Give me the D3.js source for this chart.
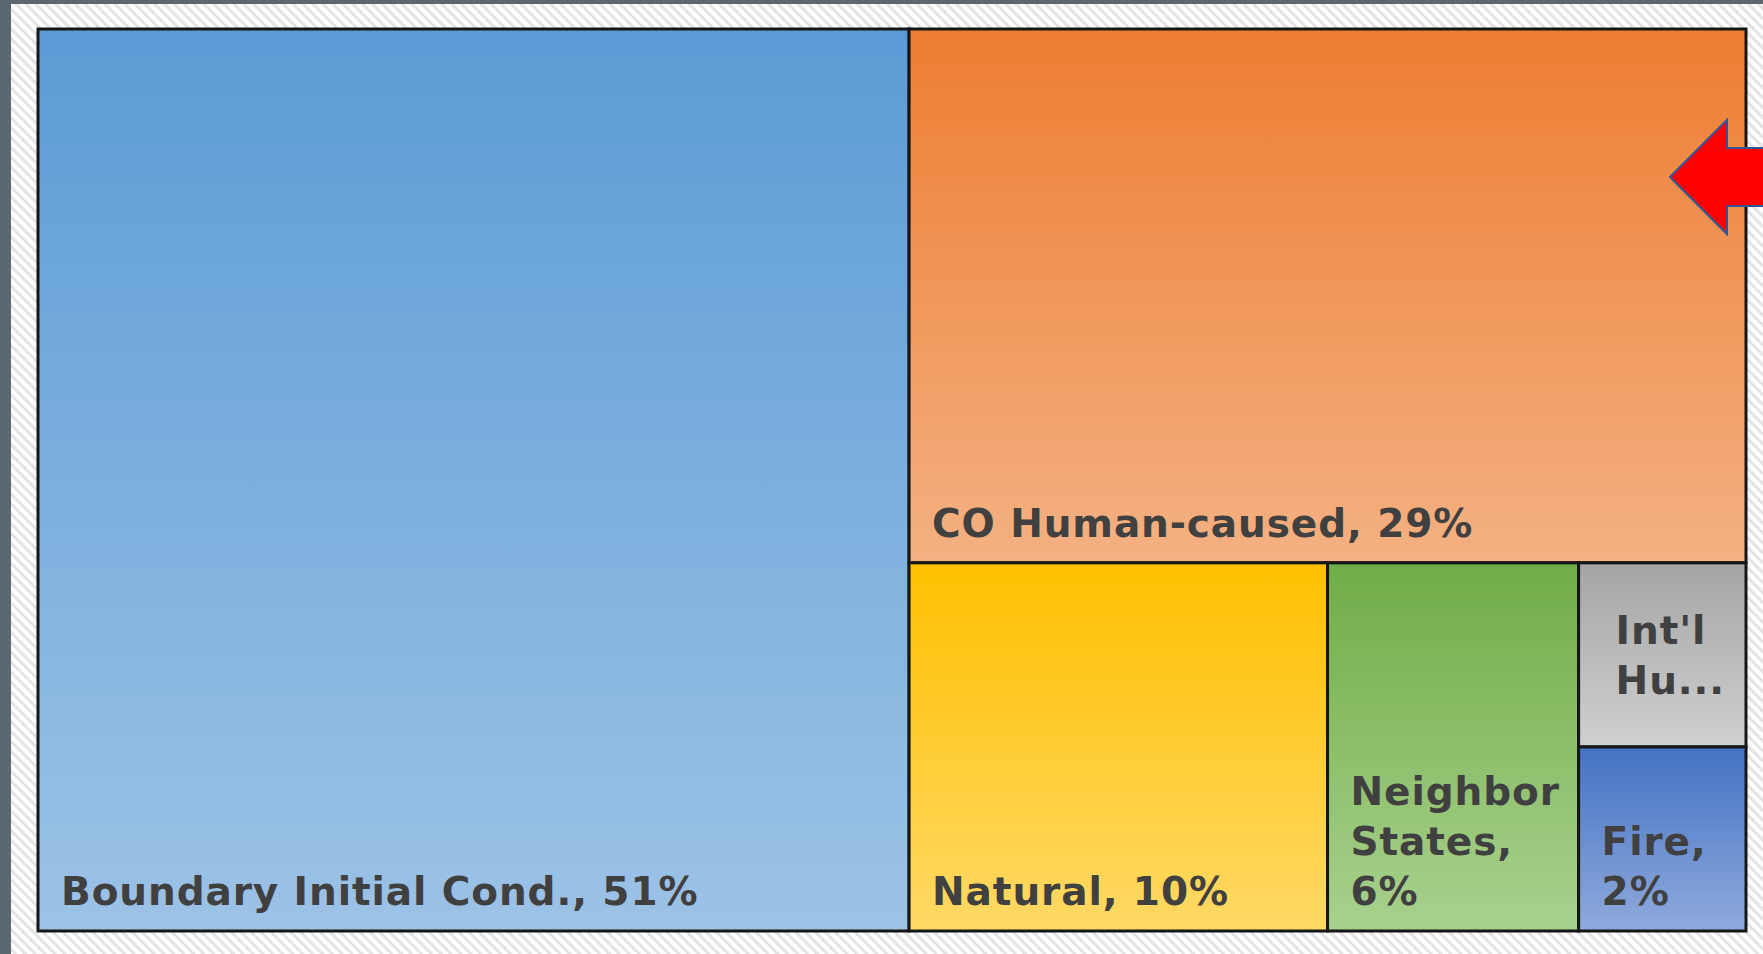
<!DOCTYPE html>
<html>
<head>
<meta charset="utf-8">
<script src="https://cdn.jsdelivr.net/npm/d3@7"></script>
<style>
  html, body { margin: 0; padding: 0; background: #ffffff; }
  svg { display: block; }
</style>
</head>
<body>
<svg id="chart" width="1763" height="954"></svg>
<script>
// Sources of CO, share of total (%)
const categories = ["Boundary Initial Cond.", "CO Human-caused", "Natural", "Neighbor States", "Int'l Human-caused", "Fire"];
const shares = [51, 29, 10, 6, 2, 2];
const colorTop = ["#5B9BD5", "#ED7D31", "#FFC000", "#70AD47", "#A5A5A5", "#4472C4"];
const colorBottom = ["#9DC3E6", "#F4B183", "#FFD966", "#A9D18E", "#D0D0D0", "#8FAADC"];

const W = 1763, H = 954;
const margin = { top: 29, right: 17, bottom: 23, left: 38 };
const svg = d3.select("#chart");
const defs = svg.append("defs");

// Hatched slide background
const hatch = defs.append("pattern")
  .attr("id", "hatch").attr("patternUnits", "userSpaceOnUse")
  .attr("width", 7).attr("height", 7)
  .attr("patternTransform", "rotate(-45)");
hatch.append("rect").attr("width", 7).attr("height", 7).attr("fill", "#ffffff");
hatch.append("rect").attr("width", 3).attr("height", 7).attr("fill", "#e4e4e4");

svg.append("rect").attr("width", W).attr("height", H).attr("fill", "url(#hatch)");
svg.append("rect").attr("x", 0).attr("y", 0).attr("width", 11).attr("height", H).attr("fill", "#5d6770");
svg.append("rect").attr("x", 0).attr("y", 0).attr("width", W).attr("height", 4).attr("fill", "#5d6770");

// Treemap layout
const data = categories.map((name, i) => ({ name, value: shares[i], i }));
const root = d3.hierarchy({ children: data })
  .sum(d => d.value || 0)
  .sort((a, b) => b.value - a.value);

d3.treemap()
  .tile(d3.treemapSquarify.ratio(1))
  .size([W - margin.left - margin.right, H - margin.top - margin.bottom])
  .paddingInner(0)(root);

const g = svg.append("g").attr("transform", `translate(${margin.left},${margin.top})`);

data.forEach((d, i) => {
  const grad = defs.append("linearGradient")
    .attr("id", "grad" + i).attr("x1", 0).attr("y1", 0).attr("x2", 0).attr("y2", 1);
  grad.append("stop").attr("offset", "0%").attr("stop-color", colorTop[i]);
  grad.append("stop").attr("offset", "100%").attr("stop-color", colorBottom[i]);
});

const cells = g.selectAll("g.cell")
  .data(root.leaves())
  .join("g").attr("class", "cell")
  .attr("transform", d => `translate(${d.x0},${d.y0})`);

cells.append("rect")
  .attr("width", d => d.x1 - d.x0)
  .attr("height", d => d.y1 - d.y0)
  .attr("fill", d => `url(#grad${d.data.i})`)
  .attr("stroke", "#161616")
  .attr("stroke-width", 3);

// Labels: wrap words into the cell; shorten with "..." when a word won't fit
const fontSize = 39, lineH = 50, pad = 23, basePad = 26;
function styleText(sel) {
  return sel.attr("font-family", "DejaVu Sans, sans-serif")
    .attr("font-weight", "bold")
    .attr("font-size", fontSize)
    .attr("letter-spacing", 0.9);
}
const measure = styleText(svg.append("text")).attr("visibility", "hidden");
function textW(s) { measure.text(s); return measure.node().getComputedTextLength(); }

cells.each(function (d) {
  const w = d.x1 - d.x0, h = d.y1 - d.y0;
  const maxW = w - pad - 12;
  const full = `${d.data.name}, ${d.data.value}%`;
  const words = full.split(" ");
  const lines = [];
  let truncated = false;
  let cur = "";
  for (const word of words) {
    const trial = cur ? cur + " " + word : word;
    if (textW(trial) <= maxW) { cur = trial; continue; }
    if (cur) { lines.push(cur); cur = ""; }
    if (textW(word) <= maxW) { cur = word; continue; }
    let k = word.length - 1;
    while (k > 0 && textW(word.slice(0, k) + "...") > w - 2 * pad) k--;
    cur = word.slice(0, k) + "...";
    truncated = true;
    break;
  }
  if (cur) lines.push(cur);

  const t = styleText(d3.select(this).append("text")).attr("fill", "#404040");

  if (truncated) {
    const blockW = d3.max(lines, textW);
    const capH = fontSize * 0.73;
    const blockH = capH + (lines.length - 1) * lineH;
    const x = (w - blockW) / 2 + 8;
    const yTop = (h - blockH) / 2 + capH;
    lines.forEach((s, j) => t.append("tspan").attr("x", x).attr("y", yTop + j * lineH).text(s));
  } else {
    const yLast = h - basePad;
    lines.forEach((s, j) => t.append("tspan").attr("x", pad)
      .attr("y", yLast - (lines.length - 1 - j) * lineH).text(s));
  }
});
measure.remove();

// Red pointer arrow at the right edge of the orange block
const ax = W - margin.right, ay = margin.top;
const arrow = d3.path();
arrow.moveTo(ax - 76, ay + 148);
arrow.lineTo(ax - 19, ay + 91);
arrow.lineTo(ax - 19, ay + 119);
arrow.lineTo(W + 10, ay + 119);
arrow.lineTo(W + 10, ay + 177);
arrow.lineTo(ax - 19, ay + 177);
arrow.lineTo(ax - 19, ay + 205);
arrow.closePath();
svg.append("path").attr("d", arrow.toString())
  .attr("fill", "#ff0000").attr("stroke", "#2f5597").attr("stroke-width", 2)
  .attr("stroke-linejoin", "miter");
</script>
</body>
</html>
